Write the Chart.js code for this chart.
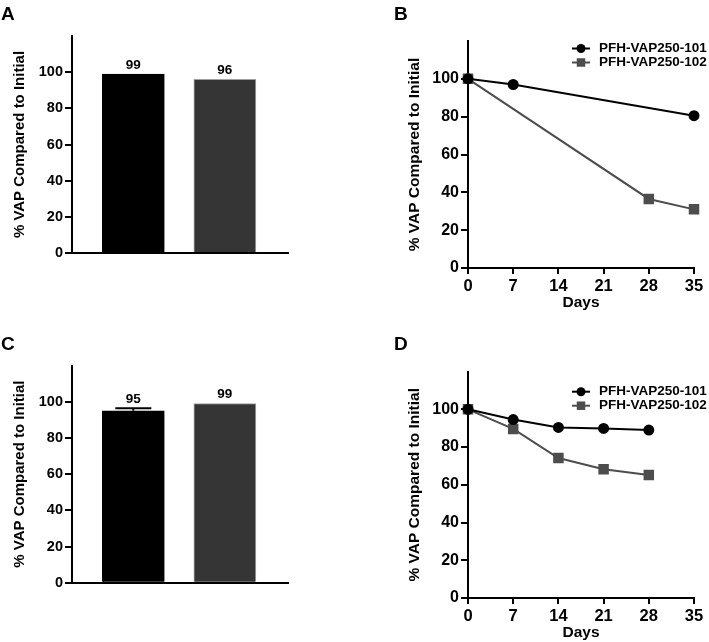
<!DOCTYPE html>
<html>
<head>
<meta charset="utf-8">
<title>VAP retention</title>
<script src="https://cdn.jsdelivr.net/npm/chart.js@4.4.1/dist/chart.umd.min.js"></script>
<style>
  body { margin: 0; background: #fff; }
  #wrap { position: relative; width: 709px; height: 642px; overflow: hidden; }
  canvas { position: absolute; }
  .tag { position: absolute; font: bold 19px "Liberation Sans", Arial, sans-serif; line-height: 19px; color: #000; }
</style>
</head>
<body>
<div id="wrap">
  <canvas id="chartA" width="354" height="320" style="left:0;top:0"></canvas>
  <canvas id="chartB" width="355" height="320" style="left:354px;top:0"></canvas>
  <canvas id="chartC" width="354" height="322" style="left:0;top:320px"></canvas>
  <canvas id="chartD" width="355" height="322" style="left:354px;top:320px"></canvas>
  <div class="tag" style="left:1px;top:4px">A</div>
  <div class="tag" style="left:394px;top:4px">B</div>
  <div class="tag" style="left:1px;top:334px">C</div>
  <div class="tag" style="left:394px;top:334px">D</div>
</div>

<script>
// ===== Data =====
const products = ['PFH-VAP250-101', 'PFH-VAP250-102'];
const vapTicks = [0, 20, 40, 60, 80, 100];
const dayTicks = [0, 7, 14, 21, 28, 35];

// panel A (bars)
const barA = [99, 96];
// panel C (bars + error)
const barC = [95, 99];
const errC = [1.4, 0];

// panel B (lines)
const daysB101 = [0, 7, 35];
const vapB101 = [100, 97, 80.5];
const daysB102 = [0, 28, 35];
const vapB102 = [100, 36.5, 31];

// panel D (lines)
const daysD = [0, 7, 14, 21, 28];
const vapD101 = [100, 94.6, 90.4, 89.9, 89];
const vapD102 = [100, 89.6, 74.2, 68.2, 65.2];

const FONT = '"Liberation Sans", Arial, sans-serif';
Chart.defaults.font.family = FONT;
Chart.defaults.font.weight = 'bold';
Chart.defaults.color = '#000';

// ===== Plugins =====
const barTopLabels = {
  id: 'barTopLabels',
  afterDatasetsDraw(chart, args, opts) {
    const ctx = chart.ctx;
    const yScale = chart.scales.y;
    const ds = chart.data.datasets[0];
    chart.getDatasetMeta(0).data.forEach((bar, i) => {
      const err = (opts.errors || [])[i] || 0;
      let top = bar.y;
      ctx.save();
      if (err > 0) {
        const ey = yScale.getPixelForValue(ds.data[i].y + err);
        ctx.strokeStyle = '#000';
        ctx.lineWidth = 2;
        ctx.beginPath();
        ctx.moveTo(bar.x, bar.y);
        ctx.lineTo(bar.x, ey);
        ctx.moveTo(bar.x - 18, ey);
        ctx.lineTo(bar.x + 18, ey);
        ctx.stroke();
        top = ey;
      }
      ctx.fillStyle = '#000';
      ctx.font = 'bold 13.5px ' + FONT;
      ctx.textAlign = 'center';
      ctx.textBaseline = 'middle';
      ctx.fillText(String(Math.round(ds.data[i].y)), bar.x, top - 9);
      ctx.restore();
    });
  }
};

const seriesKey = {
  id: 'seriesKey',
  afterDraw(chart, args, opts) {
    const ctx = chart.ctx;
    chart.data.datasets.forEach((ds, i) => {
      const y = opts.y + i * 14;
      ctx.save();
      ctx.strokeStyle = ds.borderColor;
      ctx.fillStyle = ds.pointBackgroundColor;
      ctx.lineWidth = 2;
      ctx.beginPath();
      ctx.moveTo(opts.x - 27, y);
      ctx.lineTo(opts.x - 9, y);
      ctx.stroke();
      Chart.helpers.drawPoint(ctx, { pointStyle: ds.pointStyle, radius: ds.pointRadius, rotation: 0, borderWidth: 0 }, opts.x - 18, y);
      ctx.fillStyle = '#000';
      ctx.font = 'bold 13.5px ' + FONT;
      ctx.textAlign = 'left';
      ctx.textBaseline = 'middle';
      ctx.fillText(ds.label, opts.x, y);
      ctx.restore();
    });
  }
};

// ===== Axis builders =====
function vapAxis(width, tickSize, titleSize, titlePad) {
  return {
    type: 'linear', min: 0, max: 120,
    afterBuildTicks: s => { s.ticks = vapTicks.map(v => ({ value: v })); },
    afterFit: s => { s.width = width; },
    ticks: { font: { size: tickSize, weight: 'bold' }, color: '#000', padding: 2 },
    grid: { drawOnChartArea: false, drawTicks: true, tickLength: 7, lineWidth: 2, tickColor: '#000' },
    border: { color: '#000', width: 2 },
    title: { display: true, text: '% VAP Compared to Initial', color: '#000',
             font: { size: titleSize, weight: 'bold' }, padding: { top: titlePad, bottom: 0 } }
  };
}

function dayAxis(height, titlePad) {
  return {
    type: 'linear', min: 0, max: 35,
    afterBuildTicks: s => { s.ticks = dayTicks.map(v => ({ value: v })); },
    afterFit: s => { s.height = height; },
    ticks: { font: { size: 16.5, weight: 'bold' }, color: '#000', padding: 3, maxRotation: 0 },
    grid: { drawOnChartArea: false, drawTicks: true, tickLength: 6, lineWidth: 2, tickColor: '#000' },
    border: { color: '#000', width: 2 },
    title: { display: true, text: 'Days', color: '#000',
             font: { size: 15.5, weight: 'bold' }, padding: { top: 0, bottom: titlePad } }
  };
}

function slotAxis(height) {
  return {
    type: 'linear', min: 0.33, max: 2.69, offset: false,
    afterFit: s => { s.height = height; },
    ticks: { display: false },
    grid: { display: false },
    border: { color: '#000', width: 2 }
  };
}

// ===== Bar panels =====
function barChart(id, values, errors, top, xHeight) {
  return new Chart(document.getElementById(id), {
    type: 'bar',
    data: {
      datasets: [{
        data: products.map((p, i) => ({ x: i + 1, y: values[i] })),
        backgroundColor: ['#000000', '#353535'],
        borderColor: ['#000000', '#a0a0a0'],
        borderWidth: 1,
        barThickness: 62
      }]
    },
    options: {
      responsive: false,
      animation: false,
      layout: { padding: { left: 0, right: 66, top: top, bottom: 0 } },
      scales: { x: slotAxis(xHeight), y: vapAxis(72, 14.5, 15, 11) },
      plugins: { legend: { display: false }, tooltip: { enabled: false }, barTopLabels: { errors: errors } }
    },
    plugins: [barTopLabels]
  });
}

barChart('chartA', barA, [], 36, 67);
barChart('chartC', barC, errC, 45.5, 59.3);

// ===== Line panels =====
function lineSet(label, xs, ys, color, style, radius) {
  return {
    label: label,
    data: xs.map((d, i) => ({ x: d, y: ys[i] })),
    borderColor: color,
    backgroundColor: color,
    pointBackgroundColor: color,
    pointBorderColor: color,
    pointStyle: style,
    pointRadius: radius,
    borderWidth: 2,
    clip: false
  };
}

function lineChart(id, sets, top, xHeight, daysPad, keyY) {
  return new Chart(document.getElementById(id), {
    type: 'line',
    data: { datasets: sets },
    options: {
      responsive: false,
      animation: false,
      layout: { padding: { left: 0, right: 15, top: top, bottom: 0 } },
      scales: { x: dayAxis(xHeight, daysPad), y: vapAxis(114, 16, 15.5, 51) },
      plugins: { legend: { display: false }, tooltip: { enabled: false }, seriesKey: { x: 245, y: keyY } }
    },
    plugins: [seriesKey]
  });
}

lineChart('chartB', [
  lineSet(products[0], daysB101, vapB101, '#000000', 'circle', 4.5),
  lineSet(products[1], daysB102, vapB102, '#4d4d4d', 'rect', 6)
], 41, 52, 8, 48.5);

lineChart('chartD', [
  lineSet(products[0], daysD, vapD101, '#000000', 'circle', 4.5),
  lineSet(products[1], daysD, vapD102, '#4d4d4d', 'rect', 6)
], 51.6, 44, 0, 71.7);
</script>
</body>
</html>
